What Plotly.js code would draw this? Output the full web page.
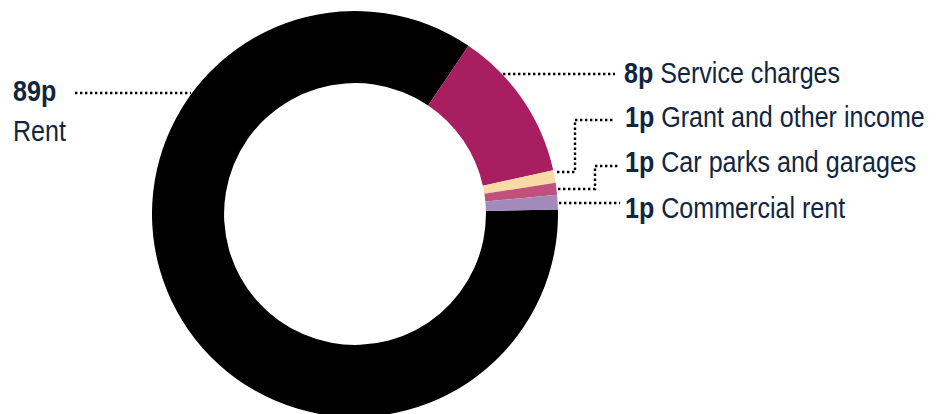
<!DOCTYPE html>
<html>
<head>
<meta charset="utf-8">
<script src="https://cdn.plot.ly/plotly-3.0.1.min.js"></script>
<style>
html,body{margin:0;padding:0;overflow:hidden;background:#fff;}
#chart{width:936px;height:430px;}
</style>
</head>
<body>
<div id="chart"></div>
<script>
// Data
var categories = ["Rent", "Service charges", "Grant and other income", "Car parks and garages", "Commercial rent"];
var sliceValues = [84.8, 12.1, 1.0, 0.95, 1.15];
var valueLabels = ["89p", "8p", "1p", "1p", "1p"];
var sliceColors = ["#000000", "#A91E60", "#F7DAA4", "#C0507C", "#A28ABA"];

var W = 936, H = 430;
function px(x){ return x / W; }
function py(y){ return 1 - y / H; }

var trace = {
  type: "pie",
  labels: categories,
  values: sliceValues,
  sort: false,
  direction: "clockwise",
  rotation: 88.7,
  hole: 0.645,
  textinfo: "none",
  hoverinfo: "none",
  marker: {colors: sliceColors, line: {width: 0}},
  domain: {x: [px(152), px(558)], y: [py(417), py(11)]},
  showlegend: false
};

var fontFam = "'Liberation Sans', Arial, sans-serif";
var txtColor = "#10253F";
var narrow = 0.865;

var annotations = [
  {x: px(11), y: py(91), text: "<b>" + valueLabels[0] + "</b>"},
  {x: px(11), y: py(131), text: categories[0]},
  {x: px(622), y: py(73), text: "<b>" + valueLabels[1] + "</b> " + categories[1]},
  {x: px(623), y: py(117), text: "<b>" + valueLabels[2] + "</b> " + categories[2]},
  {x: px(623), y: py(162), text: "<b>" + valueLabels[3] + "</b> " + categories[3]},
  {x: px(623), y: py(208), text: "<b>" + valueLabels[4] + "</b> " + categories[4]}
].map(function(a){
  a.xref = "paper"; a.yref = "paper"; a.showarrow = false;
  a.xanchor = "left"; a.yanchor = "middle";
  a.font = {family: fontFam, size: 29, color: txtColor};
  return a;
});

function pathOf(pts){
  return pts.map(function(p, i){ return (i ? "L" : "M") + px(p[0]) + "," + py(p[1]); }).join(" ");
}
var leaders = [
  [[75, 93], [191, 93]],
  [[503, 74], [615, 74]],
  [[557, 172], [575, 172], [575, 120], [615, 120]],
  [[558, 189], [595, 189], [595, 166], [619, 166]],
  [[559, 203], [620, 203]]
];
var shapes = leaders.map(function(pts){
  return {type: "path", xref: "paper", yref: "paper", path: pathOf(pts),
          line: {color: "#000000", width: 2.4, dash: "2.4px,2.6px"}, layer: "above"};
});

var layout = {
  width: W, height: H,
  margin: {l: 0, r: 0, t: 0, b: 0},
  paper_bgcolor: "#ffffff",
  showlegend: false,
  annotations: annotations,
  shapes: shapes
};

Plotly.newPlot("chart", [trace], layout, {displayModeBar: false, staticPlot: true}).then(function(gd){
  // condense annotation text horizontally (narrow typeface look), anchored at its left edge
  var texts = gd.querySelectorAll("text.annotation-text");
  texts.forEach(function(t){
    var bb = t.getBBox();
    var x0 = bb.x;
    t.setAttribute("transform", "translate(" + (x0 * (1 - narrow)) + ",0) scale(" + narrow + ",1)");
  });
});
</script>
</body>
</html>
